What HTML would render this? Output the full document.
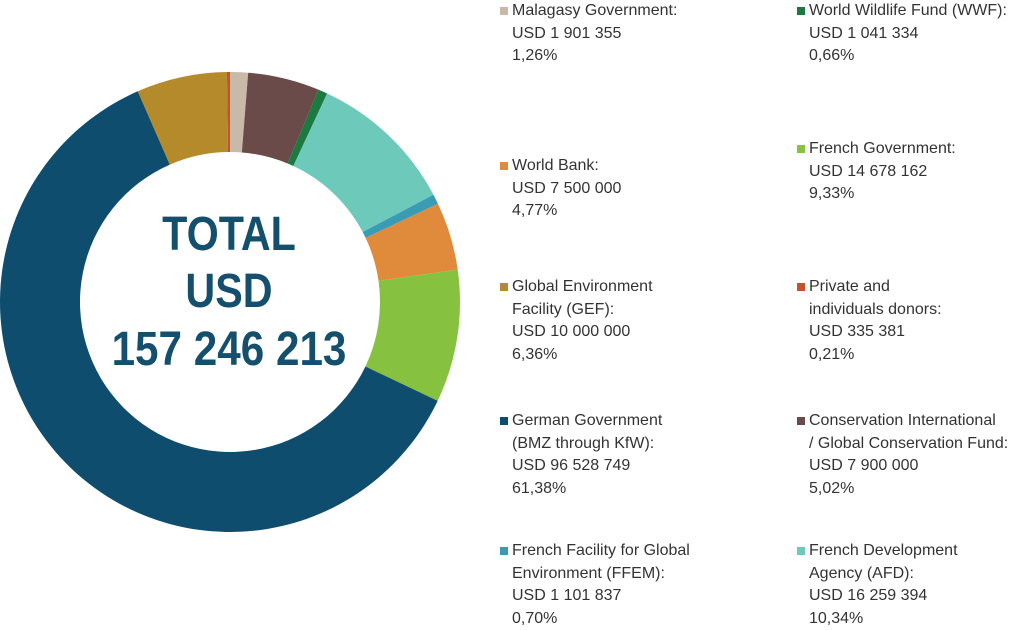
<!DOCTYPE html><html><head><meta charset="utf-8"><style>
body{margin:0;width:1024px;height:629px;background:#fff;overflow:hidden;position:relative;font-family:"Liberation Sans",sans-serif}
.l{position:absolute;font-size:16px;line-height:22.5px;color:#333;white-space:nowrap}
.l i{position:absolute;left:-12px;top:7px;width:8px;height:8px}
</style></head><body>
<svg width="470" height="629" style="position:absolute;left:0;top:0">
<g id="d"></g>
<g font-family="Liberation Sans" font-weight="bold" font-size="48" fill="#14506e" text-anchor="middle">
<text x="229" y="250" transform="translate(229 0) scale(0.86 1) translate(-229 0)">TOTAL</text>
<text x="229" y="307" transform="translate(229 0) scale(0.86 1) translate(-229 0)">USD</text>
<text x="229" y="365" transform="translate(229 0) scale(0.88 1) translate(-229 0)">157 246 213</text>
</g>
</svg>
<script>
var segs=[[1.26,"#c9b9a8"],[5.02,"#6b4a4a"],[0.66,"#1a7a40"],[10.34,"#6dcabb"],[0.70,"#3a9bb5"],[4.77,"#e08a3c"],[9.33,"#86c140"],[61.38,"#0e4d6e"],[6.36,"#b58a2a"],[0.21,"#c9502a"]];
var cx=230,cy=302,R=230,r=150,a=0,tot=100.03,h="";
function p(rad,ang){return [cx+rad*Math.sin(ang),cy-rad*Math.cos(ang)];}
segs.forEach(function(s){var a0=a/tot*2*Math.PI;a+=s[0];var a1=a/tot*2*Math.PI;var lg=(a1-a0)>Math.PI?1:0;
var A=p(R,a0),B=p(R,a1),C=p(r,a1),D=p(r,a0);
h+='<path fill="'+s[1]+'" d="M'+A+' A'+R+','+R+' 0 '+lg+' 1 '+B+' L'+C+' A'+r+','+r+' 0 '+lg+' 0 '+D+' Z"/>';});
document.getElementById("d").innerHTML=h;
</script>
<div class="l" style="left:512px;top:0px"><i style="background:#c9b9a8"></i>Malagasy Government:<br>USD 1 901 355<br>1,26%</div>
<div class="l" style="left:809px;top:0px"><i style="background:#1a7a40"></i>World Wildlife Fund (WWF):<br>USD 1 041 334<br>0,66%</div>
<div class="l" style="left:512px;top:155px"><i style="background:#e08a3c"></i>World Bank:<br>USD 7 500 000<br>4,77%</div>
<div class="l" style="left:809px;top:138px"><i style="background:#86c140"></i>French Government:<br>USD 14 678 162<br>9,33%</div>
<div class="l" style="left:512px;top:276px"><i style="background:#b58a2a"></i>Global Environment<br>Facility (GEF):<br>USD 10 000 000<br>6,36%</div>
<div class="l" style="left:809px;top:276px"><i style="background:#c9502a"></i>Private and<br>individuals donors:<br>USD 335 381<br>0,21%</div>
<div class="l" style="left:512px;top:410px"><i style="background:#0e4d6e"></i>German Government<br>(BMZ through KfW):<br>USD 96 528 749<br>61,38%</div>
<div class="l" style="left:809px;top:410px"><i style="background:#6b4a4a"></i>Conservation International<br>/ Global Conservation Fund:<br>USD 7 900 000<br>5,02%</div>
<div class="l" style="left:512px;top:540px"><i style="background:#3a9bb5"></i>French Facility for Global<br>Environment (FFEM):<br>USD 1 101 837<br>0,70%</div>
<div class="l" style="left:809px;top:540px"><i style="background:#6dcabb"></i>French Development<br>Agency (AFD):<br>USD 16 259 394<br>10,34%</div>
</body></html>
